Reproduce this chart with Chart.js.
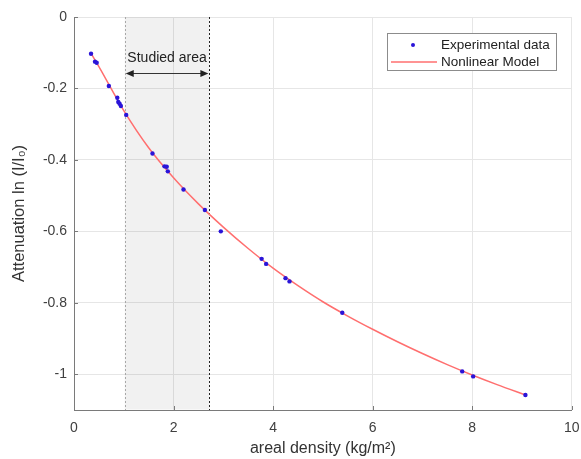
<!DOCTYPE html>
<html>
<head>
<meta charset="utf-8">
<script src="https://cdn.jsdelivr.net/npm/chart.js@4.4.0/dist/chart.umd.min.js"></script>
<style>
    html, body { margin: 0; padding: 0; background: #fff; }
    #wrap { width: 581px; height: 459px; }
</style>
</head>
<body>
<div id="wrap"><canvas id="attChart" width="581" height="459"></canvas></div>
<script>
// Datos medidos (puntos)
const densityData = [0.342, 0.422, 0.456, 0.70, 0.87, 0.89, 0.916, 0.942, 1.049, 1.577, 1.818, 1.863,
    1.885, 2.20, 2.63, 2.95, 3.77, 3.86, 4.25, 4.33, 5.39, 7.80, 8.02, 9.07];
const attenuationData = [-0.103, -0.125, -0.128, -0.193, -0.226, -0.238, -0.243, -0.249, -0.274, -0.382, -0.418, -0.419,
    -0.432, -0.483, -0.540, -0.600, -0.677, -0.691, -0.731, -0.740, -0.828, -0.992, -1.006, -1.058];

// Modelo no lineal
const modelDensity = [0.34, 0.5, 1, 1.5, 2, 2.5, 3, 3.5, 4, 4.5, 5, 5.5, 6, 6.5, 7, 7.5, 8, 8.5, 9.07];
const modelAttenuation = [-0.101, -0.139, -0.262, -0.366, -0.450, -0.523, -0.588, -0.648, -0.703, -0.752,
    -0.797, -0.837, -0.874, -0.909, -0.942, -0.973, -1.002, -1.029, -1.058];

const xTicks = [0, 2, 4, 6, 8, 10];
const yTicks = [-1, -0.8, -0.6, -0.4, -0.2, 0];
const studiedArea = [1.02, 2.72];

const POINT_COLOR = '#2a14d8';
const LINE_COLOR = '#ff6f6f';
const AXIS_COLOR = '#7a7a7a';
const FONT = "'Liberation Sans', Arial, sans-serif";

Chart.defaults.font.family = FONT;
Chart.defaults.color = '#404040';

/**
 * Zona sombreada + flecha "Studied area"
 */
const studiedAreaPlugin = {
    id: 'studiedArea',
    beforeDatasetsDraw(chart) {
        const { ctx, chartArea, scales } = chart;
        const x1 = scales.x.getPixelForValue(studiedArea[0]);
        const x2 = scales.x.getPixelForValue(studiedArea[1]);
        ctx.save();
        ctx.fillStyle = 'rgba(0,0,0,0.055)';
        ctx.fillRect(x1, chartArea.top, x2 - x1, chartArea.bottom - chartArea.top - 0.5);

        ctx.setLineDash([2, 2]);
        ctx.lineWidth = 1;
        ctx.strokeStyle = '#a8a8a8';
        ctx.beginPath();
        ctx.moveTo(Math.round(x1) + 0.5, chartArea.top);
        ctx.lineTo(Math.round(x1) + 0.5, chartArea.bottom);
        ctx.stroke();
        ctx.strokeStyle = '#222';
        ctx.beginPath();
        ctx.moveTo(Math.round(x2) + 0.5, chartArea.top);
        ctx.lineTo(Math.round(x2) + 0.5, chartArea.bottom);
        ctx.stroke();
        ctx.setLineDash([]);

        // flecha doble
        const ya = Math.round(scales.y.getPixelForValue(-0.156)) + 0.5;
        const head = 8, half = 3.5;
        ctx.strokeStyle = '#333';
        ctx.fillStyle = '#222';
        ctx.beginPath();
        ctx.moveTo(x1 + head, ya);
        ctx.lineTo(x2 - head, ya);
        ctx.stroke();
        ctx.beginPath();
        ctx.moveTo(x1 + 1, ya);
        ctx.lineTo(x1 + 1 + head, ya - half);
        ctx.lineTo(x1 + 1 + head, ya + half);
        ctx.closePath();
        ctx.fill();
        ctx.beginPath();
        ctx.moveTo(x2 - 1, ya);
        ctx.lineTo(x2 - 1 - head, ya - half);
        ctx.lineTo(x2 - 1 - head, ya + half);
        ctx.closePath();
        ctx.fill();

        ctx.font = '14px ' + FONT;
        ctx.fillStyle = '#222';
        ctx.textAlign = 'center';
        ctx.textBaseline = 'middle';
        ctx.fillText('Studied area', (x1 + x2) / 2, scales.y.getPixelForValue(-0.115));
        ctx.restore();
    },
    afterDraw(chart) {
        // marcas de los ejes hacia dentro (estilo MATLAB)
        const { ctx, chartArea, scales } = chart;
        ctx.save();
        ctx.strokeStyle = AXIS_COLOR;
        ctx.lineWidth = 1;
        ctx.beginPath();
        xTicks.forEach(v => {
            const px = Math.round(scales.x.getPixelForValue(v)) + 0.5;
            ctx.moveTo(px, chartArea.bottom);
            ctx.lineTo(px, chartArea.bottom - 4);
        });
        yTicks.forEach(v => {
            const py = Math.round(scales.y.getPixelForValue(v)) + 0.5;
            ctx.moveTo(chartArea.left, py);
            ctx.lineTo(chartArea.left + 4, py);
        });
        ctx.stroke();

        // leyenda
        const lx = 387.5, ly = 33.5, lw = 169, lh = 37;
        ctx.fillStyle = '#fff';
        ctx.fillRect(lx, ly, lw, lh);
        ctx.strokeStyle = '#8c8c8c';
        ctx.strokeRect(lx, ly, lw, lh);

        const ds = chart.data.datasets;
        ctx.font = '13.5px ' + FONT;
        ctx.textAlign = 'left';
        ctx.textBaseline = 'middle';
        ctx.fillStyle = POINT_COLOR;
        ctx.beginPath();
        ctx.arc(413, 45, 2, 0, Math.PI * 2);
        ctx.fill();
        ctx.fillStyle = '#222';
        ctx.fillText(ds[0].label, 441, 45);

        ctx.strokeStyle = LINE_COLOR;
        ctx.lineWidth = 1.5;
        ctx.beginPath();
        ctx.moveTo(391, 62);
        ctx.lineTo(437, 62);
        ctx.stroke();
        ctx.fillText(ds[1].label, 441, 62);
        ctx.restore();
    },
};

new Chart(document.getElementById('attChart'), {
    data: {
        datasets: [{
            type: 'scatter',
            label: 'Experimental data',
            data: densityData.map((x, i) => ({ x: x, y: attenuationData[i] })),
            backgroundColor: POINT_COLOR,
            borderColor: POINT_COLOR,
            borderWidth: 0,
            pointRadius: 2.2,
        }, {
            type: 'line',
            label: 'Nonlinear Model',
            data: modelDensity.map((x, i) => ({ x: x, y: modelAttenuation[i] })),
            borderColor: LINE_COLOR,
            borderWidth: 1.5,
            pointRadius: 0,
            cubicInterpolationMode: 'monotone',
            fill: false,
        }],
    },
    options: {
        responsive: false,
        animation: false,
        layout: { padding: { top: 17, right: 0, left: 0, bottom: 0 } },
        plugins: {
            legend: { display: false },
            tooltip: { enabled: false },
        },
        scales: {
            x: {
                type: 'linear',
                min: 0,
                max: 10,
                afterFit: (scale) => {
                    scale.height = 49;
                    scale.paddingRight = 9.3;
                    scale.paddingLeft = 0;
                },
                afterBuildTicks: (scale) => { scale.ticks = xTicks.map(v => ({ value: v })); },
                grid: { color: '#e6e6e6', drawTicks: false },
                border: { display: true, color: AXIS_COLOR },
                ticks: { font: { size: 14 }, padding: 10, color: '#404040' },
                title: {
                    display: true,
                    text: 'areal density (kg/m²)',
                    font: { size: 16 },
                    color: '#333',
                    padding: { top: 0, bottom: 1 },
                },
            },
            y: {
                type: 'linear',
                min: -1.1,
                max: 0,
                afterFit: (scale) => {
                    scale.width = 74;
                    scale.paddingTop = 0;
                    scale.paddingBottom = 0;
                },
                afterBuildTicks: (scale) => { scale.ticks = yTicks.map(v => ({ value: v })); },
                grid: { color: '#e6e6e6', drawTicks: false },
                border: { display: true, color: AXIS_COLOR },
                ticks: {
                    font: { size: 14 },
                    padding: 7,
                    color: '#404040',
                    callback: (v) => String(Math.round(v * 10) / 10),
                },
                title: {
                    display: true,
                    text: 'Attenuation ln (I/I₀)',
                    font: { size: 16.5 },
                    color: '#333',
                    padding: { top: 10, bottom: 0 },
                },
            },
        },
    },
    plugins: [studiedAreaPlugin],
});
</script>
</body>
</html>
